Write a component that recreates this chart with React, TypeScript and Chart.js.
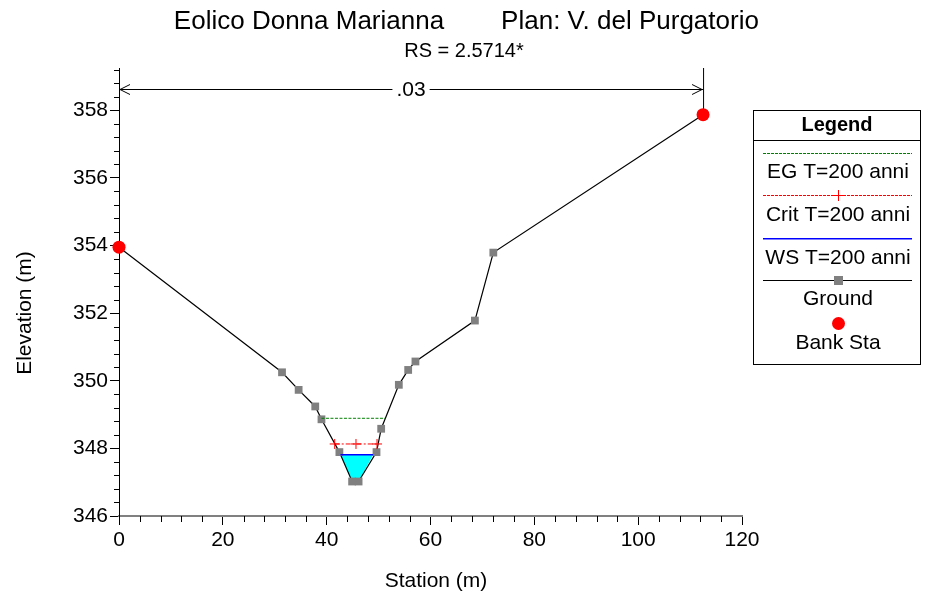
import React, { useEffect, useRef } from "react";
import { Chart, registerables } from "chart.js";
Chart.register(...registerables);

const TITLE_LEFT = "Eolico Donna Marianna";
const TITLE_RIGHT = "Plan: V. del Purgatorio";
const SUBTITLE = "RS = 2.5714*";
const X_TITLE = "Station (m)";
const Y_TITLE = "Elevation (m)";
const LEGEND_TITLE = "Legend";
const SERIES_NAMES = ["EG T=200 anni", "Crit T=200 anni", "WS T=200 anni", "Ground", "Bank Sta"];
const MANNING_N = ".03";

const groundStation = [0, 31.4, 34.6, 37.8, 39.0, 42.45, 44.9, 46.15, 49.6, 50.5, 53.9, 55.7, 57.1, 68.55, 72.1, 112.5];
const groundElev = [353.95, 350.25, 349.73, 349.24, 348.86, 347.89, 347.02, 347.02, 347.89, 348.58, 349.88, 350.32, 350.57, 351.78, 353.79, 357.87];
const bankStation = [0, 112.5];
const bankElev = [353.95, 357.87];
const egStation = [39.0, 51.3];
const egElev = [348.89, 348.89];
const critStation = [41.55, 45.65, 49.7];
const critElev = [348.13, 348.13, 348.13];
const wsStation = [42.65, 48.95];
const wsElev = [347.81, 347.81];
const xTicks = [0, 20, 40, 60, 80, 100, 120];
const yTicks = [346, 348, 350, 352, 354, 356, 358];
const xMinorStep = 4;
const yMinorStep = 0.4;

const FONT = '"Liberation Sans", Arial, sans-serif';

const EG_COLOR = "#008000";
const CRIT_COLOR = "#ff0000";
const WS_COLOR = "#0000ff";
const GROUND_COLOR = "#000000";
const GROUND_MARK = "#808080";
const BANK_COLOR = "#ff0000";
const WATER_COLOR = "#00ffff";

const pts = (xs: number[], ys: number[]) => xs.map((x, i) => ({ x, y: ys[i] }));

function waterPolygon() {
  const level = wsElev[0];
  const inner = groundStation
    .map((x, i) => ({ x, y: groundElev[i] }))
    .filter((p) => p.x > wsStation[0] && p.x < wsStation[1] && p.y < level);
  return [{ x: wsStation[0], y: wsElev[0] }, ...inner, { x: wsStation[1], y: wsElev[1] }];
}

function dashedFill(ctx: any, x0: number, x1: number, y: number, dash: number, gap: number, color: string) {
  ctx.fillStyle = color;
  for (let x = x0; x < x1; x += dash + gap) {
    ctx.fillRect(x, y, Math.min(dash, x1 - x), 1);
  }
}

const decorPlugin = {
  id: "decor",
  beforeDatasetsDraw(chart: any) {
    const { ctx, chartArea, scales } = chart;
    const xs = scales.x;
    const ys = scales.y;
    ctx.save();
    const xl = xs.getPixelForValue(bankStation[0]);
    const xr = xs.getPixelForValue(bankStation[1]);
    const top = chartArea.top;
    ctx.strokeStyle = "#000";
    ctx.lineWidth = 1;
    ctx.beginPath();
    ctx.moveTo(xr + 0.5, top);
    ctx.lineTo(xr + 0.5, ys.getPixelForValue(bankElev[1]));
    ctx.stroke();
    const ay = Math.round(top + 21) + 0.5;
    ctx.font = `21px ${FONT}`;
    const tw = ctx.measureText(MANNING_N).width;
    const mid = (xl + xr) / 2;
    ctx.beginPath();
    ctx.moveTo(xl, ay);
    ctx.lineTo(mid - tw / 2 - 4, ay);
    ctx.moveTo(mid + tw / 2 + 4, ay);
    ctx.lineTo(xr, ay);
    ctx.moveTo(xl + 11, ay - 5);
    ctx.lineTo(xl + 1, ay);
    ctx.lineTo(xl + 11, ay + 5);
    ctx.moveTo(xr - 11, ay - 5);
    ctx.lineTo(xr - 1, ay);
    ctx.lineTo(xr - 11, ay + 5);
    ctx.stroke();
    ctx.fillStyle = "#000";
    ctx.textAlign = "center";
    ctx.textBaseline = "middle";
    ctx.fillText(MANNING_N, mid, ay + 1);
    ctx.restore();
  },
  afterDraw(chart: any) {
    const { ctx, chartArea, scales } = chart;
    const xs = scales.x;
    const ys = scales.y;
    ctx.save();
    ctx.strokeStyle = "#000";
    ctx.lineWidth = 1;
    ctx.beginPath();
    for (let k = 0; ; k++) {
      const v = ys.min + k * yMinorStep;
      if (v > ys.max + 1e-9) break;
      if (yTicks.some((t) => Math.abs(t - v) < 1e-6)) continue;
      const py = Math.round(ys.getPixelForValue(v)) + 0.5;
      ctx.moveTo(chartArea.left - 5, py);
      ctx.lineTo(chartArea.left, py);
    }
    for (let k = 0; ; k++) {
      const v = xs.min + k * xMinorStep;
      if (v > xs.max + 1e-9) break;
      if (xTicks.some((t) => Math.abs(t - v) < 1e-6)) continue;
      const px = Math.round(xs.getPixelForValue(v)) + 0.5;
      ctx.moveTo(px, chartArea.bottom);
      ctx.lineTo(px, chartArea.bottom + 6);
    }
    ctx.stroke();

    // titles
    ctx.fillStyle = "#000";
    ctx.textAlign = "center";
    ctx.textBaseline = "alphabetic";
    ctx.font = `26px ${FONT}`;
    ctx.fillText(TITLE_LEFT, 309, 29);
    ctx.fillText(TITLE_RIGHT, 630, 29);
    ctx.font = `20px ${FONT}`;
    ctx.fillText(SUBTITLE, 464, 57);

    // axis titles
    ctx.font = `21px ${FONT}`;
    ctx.textBaseline = "middle";
    ctx.fillText(X_TITLE, 436, 581);
    ctx.save();
    ctx.translate(25, 313);
    ctx.rotate(-Math.PI / 2);
    ctx.fillText(Y_TITLE, 0, 0);
    ctx.restore();

    // legend box
    const L = 753.5, T = 110.5, R = 920.5, B = 364.5;
    ctx.strokeStyle = "#000";
    ctx.lineWidth = 1;
    ctx.setLineDash([]);
    ctx.strokeRect(L, T, R - L, B - T);
    ctx.beginPath();
    ctx.moveTo(L, 140.5);
    ctx.lineTo(R, 140.5);
    ctx.stroke();
    ctx.fillStyle = "#000";
    ctx.font = `bold 20px ${FONT}`;
    ctx.fillText(LEGEND_TITLE, (L + R) / 2, 125);
    const lineYs = [153, 195, 238, 280, 323];
    const labelYs = [172, 215, 258, 299.5, 343];
    const x0 = 763, x1 = 912, cx = Math.round((x0 + x1) / 2);
    // EG
    dashedFill(ctx, x0, x1, lineYs[0], 3, 1, EG_COLOR);
    // Crit
    dashedFill(ctx, x0, x1, lineYs[1], 3, 1, CRIT_COLOR);
    ctx.fillStyle = CRIT_COLOR;
    ctx.fillRect(cx - 5, lineYs[1], 11, 1);
    ctx.fillRect(cx, lineYs[1] - 5, 1, 11);
    // WS
    ctx.fillStyle = WS_COLOR;
    ctx.fillRect(x0, lineYs[2], x1 - x0, 1.5);
    // Ground
    ctx.fillStyle = GROUND_COLOR;
    ctx.fillRect(x0, lineYs[3], x1 - x0, 1);
    ctx.fillStyle = GROUND_MARK;
    ctx.fillRect(cx - 4, lineYs[3] - 4, 9, 9);
    // Bank
    ctx.fillStyle = BANK_COLOR;
    ctx.beginPath(); ctx.arc(cx + 0.5, lineYs[4] + 0.5, 6.5, 0, Math.PI * 2); ctx.fill();
    // labels
    ctx.fillStyle = "#000";
    ctx.font = `21px ${FONT}`;
    SERIES_NAMES.forEach((n, i) => ctx.fillText(n, cx, labelYs[i]));
    ctx.restore();
  },
};

export default function App() {
  const ref = useRef<HTMLCanvasElement | null>(null);
  useEffect(() => {
    if (!ref.current) return;
    Chart.defaults.font.family = FONT;
    const chart = new Chart(ref.current, {
      type: "scatter",
      data: {
        datasets: [
          {
            label: SERIES_NAMES[4],
            data: pts(bankStation, bankElev),
            showLine: false,
            clip: false,
            pointStyle: "circle",
            pointRadius: 6.5,
            pointBackgroundColor: BANK_COLOR,
            pointBorderColor: BANK_COLOR,
            pointBorderWidth: 0,
          },
          {
            label: SERIES_NAMES[1],
            data: pts(critStation, critElev),
            showLine: true,
            borderColor: CRIT_COLOR,
            borderWidth: 1,
            borderDash: [5, 2, 2, 2],
            pointStyle: "cross",
            pointRadius: 5,
            pointBorderColor: CRIT_COLOR,
            pointBorderWidth: 1,
          },
          {
            label: SERIES_NAMES[0],
            data: pts(egStation, egElev),
            showLine: true,
            borderColor: EG_COLOR,
            borderWidth: 1,
            borderDash: [3, 1.5],
            pointRadius: 0,
          },
          {
            label: SERIES_NAMES[2],
            data: pts(wsStation, wsElev),
            showLine: true,
            borderColor: WS_COLOR,
            borderWidth: 1.5,
            pointRadius: 0,
          },
          {
            label: SERIES_NAMES[3],
            data: pts(groundStation, groundElev),
            showLine: true,
            clip: false,
            borderColor: GROUND_COLOR,
            borderWidth: 1.2,
            pointStyle: "rect",
            pointRadius: 5.5,
            pointBackgroundColor: GROUND_MARK,
            pointBorderColor: GROUND_MARK,
            pointBorderWidth: 0,
          },
          {
            label: "water",
            data: waterPolygon(),
            showLine: true,
            borderWidth: 0,
            borderColor: "rgba(0,0,0,0)",
            backgroundColor: WATER_COLOR,
            fill: "shape",
            pointRadius: 0,
          },
        ],
      },
      options: {
        animation: false,
        responsive: false,
        devicePixelRatio: 1,
        layout: { padding: { left: 0, top: 68, right: 190, bottom: 0 } },
        plugins: { legend: { display: false }, tooltip: { enabled: false }, title: { display: false } },
        scales: {
          x: {
            type: "linear",
            min: 0,
            max: 120,
            afterBuildTicks: (s: any) => { s.ticks = xTicks.map((v) => ({ value: v })); },
            afterFit: (s: any) => { s.height = 81; },
            border: { color: "#808080", width: 2 },
            grid: { drawOnChartArea: false, tickLength: 9, tickColor: "#000" },
            ticks: { font: { size: 21, family: FONT }, color: "#000", padding: 3, maxRotation: 0 },
          },
          y: {
            type: "linear",
            min: 346,
            max: 359.25,
            afterBuildTicks: (s: any) => { s.ticks = yTicks.map((v) => ({ value: v })); },
            afterFit: (s: any) => { s.width = 119; },
            border: { color: "#000", width: 1 },
            grid: { drawOnChartArea: false, tickLength: 9, tickColor: "#000" },
            ticks: { font: { size: 21, family: FONT }, color: "#000", padding: 2 },
          },
        },
      },
      plugins: [decorPlugin],
    } as any);
    return () => chart.destroy();
  }, []);
  return (
    <div style={{ position: "fixed", left: 0, top: 0, width: 932, height: 597, background: "#fff" }}>
      <canvas ref={ref} width={932} height={597} style={{ width: 932, height: 597 }} />
    </div>
  );
}
